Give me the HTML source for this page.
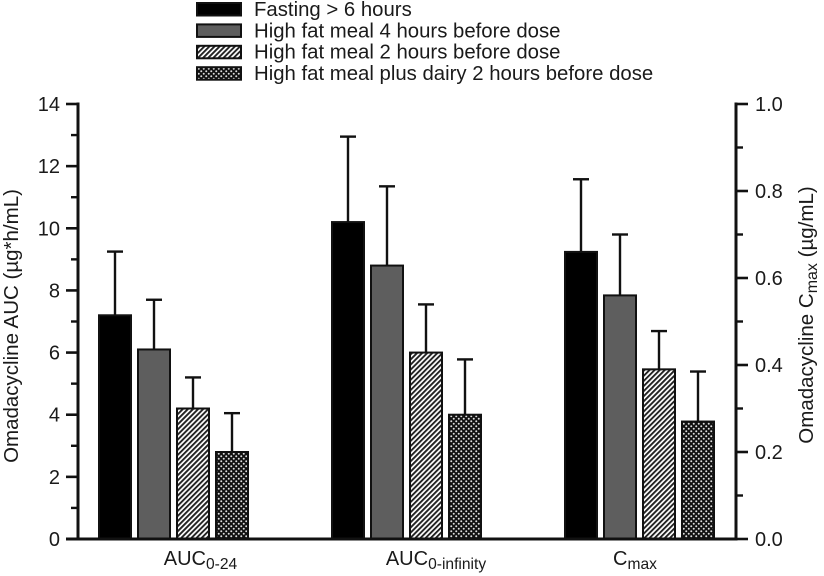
<!DOCTYPE html>
<html>
<head>
<meta charset="utf-8">
<style>
html,body{margin:0;padding:0;background:#fff;width:824px;height:576px;overflow:hidden}
svg{display:block;font-family:"Liberation Sans",sans-serif;fill:#1a1a1a;filter:blur(0.35px)}
</style>
</head>
<body>
<svg id="chart" width="824" height="576" viewBox="0 0 824 576" xmlns="http://www.w3.org/2000/svg">
<defs>
<pattern id="hatch" patternUnits="userSpaceOnUse" width="3.6" height="3.6" patternTransform="rotate(45)">
<rect width="3.6" height="3.6" fill="#fff"/>
<rect width="1.9" height="3.6" fill="#222"/>
</pattern>
<pattern id="dots" patternUnits="userSpaceOnUse" width="5" height="5">
<rect width="5" height="5" fill="#111"/>
<circle cx="1.25" cy="1.25" r="1" fill="#ddd"/>
<circle cx="3.75" cy="3.75" r="1" fill="#ddd"/>
</pattern>
</defs>
<g id="legend"></g>
<g id="bars"></g>
<g id="axes"></g>
</svg>
<script>
const seriesNames = ['Fasting > 6 hours', 'High fat meal 4 hours before dose', 'High fat meal 2 hours before dose', 'High fat meal plus dairy 2 hours before dose'];
const seriesKeys = ['fasting', 'meal-4h', 'meal-2h', 'meal-dairy-2h'];
const categories = ['AUC', 'AUC', 'C'];
const categorySubs = ['0-24', '0-infinity', 'max'];
const categoryKeys = ['auc-0-24', 'auc-0-infinity', 'cmax'];
const categoryAxis = ['left', 'left', 'right'];
const fasting = [7.2, 10.2, 0.66];
const meal4h = [6.1, 8.8, 0.56];
const meal2h = [4.2, 6.0, 0.39];
const mealDairy2h = [2.8, 4.0, 0.27];
const fastingTop = [9.25, 12.95, 0.827];
const meal4hTop = [7.7, 11.35, 0.70];
const meal2hTop = [5.2, 7.55, 0.478];
const mealDairy2hTop = [4.05, 5.78, 0.385];
const leftTicks = ['0', '2', '4', '6', '8', '10', '12', '14'];
const leftMinor = [1, 3, 5, 7, 9, 11, 13];
const rightTicks = ['0.0', '0.2', '0.4', '0.6', '0.8', '1.0'];
const rightMinor = [0.1, 0.3, 0.5, 0.7, 0.9];

const NS = 'http://www.w3.org/2000/svg';
const Y0 = 539, Y1 = 104, AX_L = 78, AX_R = 736;
const yLeft = v => Y0 - v / 14 * (Y0 - Y1);
const yRight = v => Y0 - v / 1 * (Y0 - Y1);
const xBar = (c, s) => 98 + c * 233 + s * 39;
const BAR_W = 34;
const fills = ['#000', '#5e5e5e', 'url(#hatch)', 'url(#dots)'];
const values = [fasting, meal4h, meal2h, mealDairy2h];
const tops = [fastingTop, meal4hTop, meal2hTop, mealDairy2hTop];

function mk(tag, attrs, parent) {
  const el = document.createElementNS(NS, tag);
  for (const k in attrs) el.setAttribute(k, attrs[k]);
  parent.appendChild(el);
  return el;
}
const legend = document.getElementById('legend');
const bars = document.getElementById('bars');
const axes = document.getElementById('axes');

seriesNames.forEach((name, i) => {
  const y = 3 + i * 21.4;
  const sw = mk('rect', {x: 197, y: y, width: 44, height: 12.5, fill: fills[i], stroke: '#111', 'stroke-width': 2}, legend);
  
  
  const t = mk('text', {x: 254, y: 16 + i * 21.3, 'font-size': 20.35}, legend);
  t.textContent = name;
  
  
});

categories.forEach((cat, c) => {
  const scale = categoryAxis[c] === 'left' ? yLeft : yRight;
  values.forEach((vals, s) => {
    const x = xBar(c, s), yv = scale(vals[c]), yt = scale(tops[s][c]), cx = x + BAR_W / 2;
    const stem = mk('line', {x1: cx, x2: cx, y1: yv, y2: yt, stroke: '#111', 'stroke-width': 2.4}, bars);
    
    
    const cap = mk('line', {x1: cx - 8, x2: cx + 8, y1: yt, y2: yt, stroke: '#111', 'stroke-width': 2.4}, bars);
    
    
    const r = mk('rect', {x: x + 1, y: yv, width: BAR_W - 2, height: Y0 - yv, fill: fills[s], stroke: '#111', 'stroke-width': 2}, bars);
    
    
  });
  const cx = [200.5, 436, 635][c];
  const lab = mk('text', {x: cx, y: 565, 'font-size': 20, 'text-anchor': 'middle'}, axes);
  
  
  const a = mk('tspan', {}, lab);
  a.textContent = cat;
  const b = mk('tspan', {dy: 4, 'font-size': 15.6}, lab);
  b.textContent = categorySubs[c];
});

const lines = [
  ['left-axis-line', AX_L, Y1 - 1.5, AX_L, Y0],
  ['right-axis-line', AX_R, Y1 - 1.5, AX_R, Y0],
  ['x-axis-line', 66, Y0, AX_R + 1.5, Y0]
];
lines.forEach(l => {
  const ln = mk('line', {x1: l[1], y1: l[2], x2: l[3], y2: l[4], stroke: '#111', 'stroke-width': 3}, axes);
  
  
});

leftTicks.forEach(t => {
  const y = yLeft(+t);
  const tk = mk('line', {x1: 66, x2: AX_L, y1: y, y2: y, stroke: '#111', 'stroke-width': 2.6}, axes);
  
  
  const lb = mk('text', {x: 60, y: y + 7, 'font-size': 20, 'text-anchor': 'end'}, axes);
  lb.textContent = t;
  
  
});
leftMinor.forEach(v => {
  const y = yLeft(v);
  const tk = mk('line', {x1: 71, x2: AX_L, y1: y, y2: y, stroke: '#111', 'stroke-width': 2.4}, axes);
  
  
});
rightTicks.forEach(t => {
  const y = yRight(+t);
  const tk = mk('line', {x1: AX_R, x2: 748, y1: y, y2: y, stroke: '#111', 'stroke-width': 2.6}, axes);
  
  
  const lb = mk('text', {x: 755, y: y + 7, 'font-size': 20}, axes);
  lb.textContent = t;
  
  
});
rightMinor.forEach(v => {
  const y = yRight(v);
  const tk = mk('line', {x1: AX_R, x2: 743, y1: y, y2: y, stroke: '#111', 'stroke-width': 2.4}, axes);
  
  
});

const yl = mk('text', {transform: 'translate(18 326) rotate(-90)', 'font-size': 20.5, 'text-anchor': 'middle'}, axes);
yl.textContent = 'Omadacycline AUC (\u00b5g*h/mL)';



const yr = mk('text', {transform: 'translate(813 315) rotate(-90)', 'font-size': 20.5, 'text-anchor': 'middle'}, axes);


const r1 = mk('tspan', {}, yr);
r1.textContent = 'Omadacycline C';
const r2 = mk('tspan', {dy: 4, 'font-size': 16}, yr);
r2.textContent = 'max';
const r3 = mk('tspan', {dy: -4}, yr);
r3.textContent = ' (\u00b5g/mL)';
</script>
</body>
</html>
